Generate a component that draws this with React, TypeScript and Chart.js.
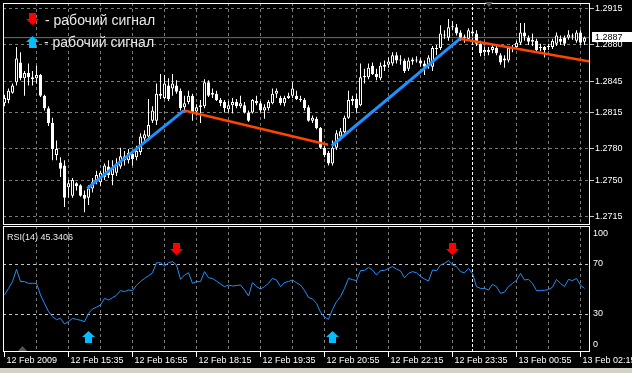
import React, { useEffect, useRef } from 'react';
import { Chart, registerables } from 'chart.js';

Chart.register(...registerables);

// ---- 5-minute candles (bar index 0..145) ----
const OPEN = [
  1.2824, 1.2827, 1.2834, 1.2844, 1.2863, 1.2848, 1.2853, 1.2849, 1.2848, 1.2851,
  1.2831, 1.2819, 1.2805, 1.2774, 1.2767, 1.2764, 1.2743, 1.2735, 1.2747, 1.2745,
  1.2736, 1.2733, 1.2742, 1.2750, 1.2748, 1.2753, 1.2763, 1.2755, 1.2757, 1.2763,
  1.2773, 1.2769, 1.2775, 1.2772, 1.2777, 1.2790, 1.2792, 1.2807, 1.2807, 1.2833,
  1.2829, 1.2841, 1.2838, 1.2841, 1.2836, 1.2820, 1.2825, 1.2831, 1.2816, 1.2820,
  1.2821, 1.2844, 1.2832, 1.2833, 1.2827, 1.2825, 1.2818, 1.2822, 1.2825, 1.2821,
  1.2822, 1.2815, 1.2815, 1.2826, 1.2824, 1.2817, 1.2819, 1.2824, 1.2833, 1.2829,
  1.2824, 1.2829, 1.2831, 1.2831, 1.2828, 1.2827, 1.2820, 1.2807, 1.2809, 1.2800,
  1.2781, 1.2776, 1.2766, 1.2781, 1.2792, 1.2796, 1.2810, 1.2826, 1.2828, 1.2822,
  1.2849, 1.2849, 1.2860, 1.2852, 1.2848, 1.2859, 1.2861, 1.2862, 1.2870, 1.2865,
  1.2865, 1.2857, 1.2864, 1.2866, 1.2865, 1.2862, 1.2860, 1.2859, 1.2876, 1.2877,
  1.2890, 1.2887, 1.2897, 1.2897, 1.2892, 1.2887, 1.2886, 1.2893, 1.2891, 1.2881,
  1.2873, 1.2875, 1.2875, 1.2877, 1.2870, 1.2865, 1.2865, 1.2877, 1.2878, 1.2882,
  1.2892, 1.2887, 1.2883, 1.2884, 1.2877, 1.2878, 1.2878, 1.2878, 1.2881, 1.2886,
  1.2887, 1.2887, 1.2889, 1.2884, 1.2892, 1.2883,
];
const HIGH = [
  1.2832, 1.2838, 1.2843, 1.2878, 1.2873, 1.2855, 1.2862, 1.2855, 1.2860, 1.2852,
  1.2832, 1.2821, 1.2810, 1.2788, 1.2772, 1.2769, 1.2750, 1.2752, 1.2748, 1.2746,
  1.2740, 1.2745, 1.2752, 1.2759, 1.2759, 1.2766, 1.2769, 1.2769, 1.2771, 1.2781,
  1.2778, 1.2780, 1.2778, 1.2783, 1.2795, 1.2798, 1.2828, 1.2821, 1.2843, 1.2852,
  1.2851, 1.2848, 1.2852, 1.2846, 1.2838, 1.2831, 1.2836, 1.2833, 1.2823, 1.2827,
  1.2847, 1.2846, 1.2838, 1.2836, 1.2829, 1.2827, 1.2826, 1.2829, 1.2828, 1.2831,
  1.2825, 1.2817, 1.2828, 1.2831, 1.2826, 1.2823, 1.2827, 1.2838, 1.2838, 1.2831,
  1.2831, 1.2834, 1.2844, 1.2836, 1.2831, 1.2829, 1.2822, 1.2812, 1.2811, 1.2801,
  1.2783, 1.2778, 1.2788, 1.2798, 1.2800, 1.2812, 1.2836, 1.2831, 1.2833, 1.2862,
  1.2857, 1.2862, 1.2863, 1.2857, 1.2863, 1.2865, 1.2868, 1.2873, 1.2873, 1.2870,
  1.2867, 1.2868, 1.2868, 1.2869, 1.2867, 1.2865, 1.2870, 1.2879, 1.2880, 1.2899,
  1.2894, 1.2905, 1.2903, 1.2900, 1.2894, 1.2890, 1.2896, 1.2896, 1.2894, 1.2884,
  1.2878, 1.2878, 1.2880, 1.2879, 1.2872, 1.2870, 1.2878, 1.2880, 1.2884, 1.2901,
  1.2901, 1.2889, 1.2891, 1.2886, 1.2881, 1.2879, 1.2881, 1.2886, 1.2892, 1.2889,
  1.2889, 1.2894, 1.2891, 1.2894, 1.2894, 1.2888,
];
const LOW = [
  1.2821, 1.2824, 1.2833, 1.2841, 1.2846, 1.2831, 1.2841, 1.2841, 1.2843, 1.2830,
  1.2817, 1.2802, 1.2769, 1.2769, 1.2753, 1.2724, 1.2733, 1.2733, 1.2740, 1.2734,
  1.2719, 1.2726, 1.2738, 1.2746, 1.2744, 1.2750, 1.2752, 1.2745, 1.2754, 1.2761,
  1.2764, 1.2766, 1.2764, 1.2769, 1.2774, 1.2786, 1.2788, 1.2805, 1.2803, 1.2828,
  1.2828, 1.2826, 1.2831, 1.2833, 1.2817, 1.2817, 1.2823, 1.2807, 1.2812, 1.2805,
  1.2819, 1.2830, 1.2829, 1.2826, 1.2821, 1.2815, 1.2815, 1.2814, 1.2819, 1.2819,
  1.2814, 1.2806, 1.2814, 1.2822, 1.2815, 1.2809, 1.2817, 1.2823, 1.2829, 1.2822,
  1.2821, 1.2828, 1.2829, 1.2827, 1.2825, 1.2817, 1.2806, 1.2805, 1.2799, 1.2780,
  1.2772, 1.2764, 1.2764, 1.2779, 1.2788, 1.2794, 1.2809, 1.2822, 1.2815, 1.2821,
  1.2843, 1.2847, 1.2851, 1.2846, 1.2846, 1.2855, 1.2858, 1.2860, 1.2862, 1.2861,
  1.2853, 1.2855, 1.2861, 1.2863, 1.2859, 1.2851, 1.2857, 1.2855, 1.2870, 1.2875,
  1.2886, 1.2884, 1.2894, 1.2889, 1.2884, 1.2882, 1.2884, 1.2888, 1.2879, 1.2869,
  1.2869, 1.2870, 1.2872, 1.2870, 1.2861, 1.2858, 1.2863, 1.2873, 1.2876, 1.2880,
  1.2884, 1.2880, 1.2879, 1.2873, 1.2874, 1.2868, 1.2875, 1.2876, 1.2879, 1.2880,
  1.2879, 1.2885, 1.2885, 1.2882, 1.2880, 1.2880,
];
const CLOSE = [
  1.2829, 1.2836, 1.2841, 1.2867, 1.2848, 1.2853, 1.2849, 1.2847, 1.2851, 1.2831,
  1.2819, 1.2805, 1.2780, 1.2780, 1.2761, 1.2733, 1.2747, 1.2750, 1.2744, 1.2735,
  1.2732, 1.2742, 1.2748, 1.2755, 1.2757, 1.2764, 1.2755, 1.2761, 1.2766, 1.2773,
  1.2769, 1.2776, 1.2770, 1.2778, 1.2792, 1.2794, 1.2803, 1.2817, 1.2833, 1.2831,
  1.2843, 1.2828, 1.2843, 1.2835, 1.2819, 1.2824, 1.2831, 1.2815, 1.2820, 1.2822,
  1.2844, 1.2831, 1.2834, 1.2827, 1.2824, 1.2819, 1.2822, 1.2825, 1.2821, 1.2824,
  1.2815, 1.2807, 1.2827, 1.2824, 1.2817, 1.2820, 1.2825, 1.2833, 1.2836, 1.2824,
  1.2829, 1.2831, 1.2838, 1.2828, 1.2827, 1.2819, 1.2807, 1.2810, 1.2800, 1.2781,
  1.2774, 1.2766, 1.2781, 1.2795, 1.2797, 1.2810, 1.2827, 1.2828, 1.2819, 1.2849,
  1.2850, 1.2858, 1.2852, 1.2849, 1.2860, 1.2861, 1.2864, 1.2870, 1.2865, 1.2866,
  1.2855, 1.2865, 1.2866, 1.2865, 1.2862, 1.2859, 1.2868, 1.2877, 1.2877, 1.2891,
  1.2889, 1.2897, 1.2898, 1.2891, 1.2887, 1.2888, 1.2894, 1.2891, 1.2881, 1.2872,
  1.2875, 1.2873, 1.2878, 1.2872, 1.2863, 1.2867, 1.2877, 1.2878, 1.2882, 1.2892,
  1.2888, 1.2883, 1.2885, 1.2875, 1.2878, 1.2875, 1.2879, 1.2884, 1.2889, 1.2883,
  1.2881, 1.2890, 1.2888, 1.2892, 1.2882, 1.2887,
];

// ---- RSI(14) per bar ----
const RSI = [
  45.2, 50.5, 55.9, 65.7, 56, 55.9, 54.5, 54.5, 54.5, 45.2,
  38.5, 32, 28, 25.5, 26.5, 22, 24, 26.5, 25.7, 25,
  23.9, 30.5, 34, 35.5, 37.2, 42.5, 41.2, 43, 45, 48.7,
  47.9, 49.2, 48.7, 53, 56, 58.5, 60.5, 63, 71, 71,
  68.4, 71, 71.9, 69.2, 57.7, 61.2, 63, 54.5, 55.9, 55.9,
  63.9, 59, 58.4, 56.4, 54, 51.9, 53.2, 52.4, 52.8, 53.2,
  49.2, 44.4, 55.1, 51.9, 50, 51.9, 54.5, 58.5, 57.2, 51.9,
  55.1, 56, 57.2, 55, 53.2, 48.9, 43.3, 42, 38.5, 31.5,
  27.5, 25.7, 33.7, 39.9, 43.9, 50.5, 58.5, 57.5, 56.7, 64.7,
  64.9, 67.3, 65.2, 61.2, 64.7, 64.9, 66.5, 67.9, 66, 64.5,
  59, 62.5, 63.9, 63, 60, 58, 56.4, 65.2, 64.7, 69.2,
  70.5, 72.7, 69.2, 67.9, 63.9, 63, 66.5, 62.5, 51.9, 50.5,
  50.5, 49.2, 53.7, 51.9, 46.5, 47.5, 52, 54.5, 57, 62.5,
  57.2, 57.7, 54.5, 48.7, 48.7, 49, 49.5, 51.5, 57.7, 54.5,
  51.9, 57.7, 56.7, 58.5, 53, 50.5,
];

// ---- axes ----
const PRICE_TICKS = [1.2915, 1.288, 1.2845, 1.2815, 1.278, 1.275, 1.2715];
const RSI_TICKS = [100, 70, 30, 0];
const RSI_LEVELS = [70, 30];
const GRID_BARS = [0, 8, 16, 24, 32, 40, 48, 56, 64, 72, 80, 88, 96, 104, 112, 120, 128, 136, 144];
const TIME_LABELS = [
  '12 Feb 2009', '12 Feb 15:35', '12 Feb 16:55', '12 Feb 18:15', '12 Feb 19:35',
  '12 Feb 20:55', '12 Feb 22:15', '12 Feb 23:35', '13 Feb 00:55', '13 Feb 02:15',
];

// ---- objects on the chart ----
const LAST_PRICE = 1.2887;
const RSI_CAPTION = 'RSI(14) 45.3406';
const LEGEND_TEXT = '- рабочий сигнал';
const VLINE_BAR = 117;
const UPTREND_1 = [[20.7, 1.2742], [44.9, 1.2817]];
const UPTREND_2 = [[81.8, 1.2783], [113.9, 1.2886]];
const DOWNTREND_1 = [[44.9, 1.2817], [80.9, 1.2784]];
const DOWNTREND_2 = [[113.9, 1.2886], [146.3, 1.2864]];
const SELL_BARS = [43, 112];
const BUY_BARS = [21, 82];
const SELL_MARK = 82;
const BUY_MARK = 11.6;

// ---- scale extents ----
const X_MIN = -0.375;
const X_MAX = 146.375;
const P_MIN = 1.27068;
const P_MAX = 1.29203;
const R_MIN = -0.4;
const R_MAX = 100.4;

const FONT = "'Liberation Sans', Arial, sans-serif";
const GRID = '#7a7a7a';
const CLEAR = 'rgba(0,0,0,0)';

function makeArrow(color: string, up: boolean): HTMLCanvasElement {
  const c = document.createElement('canvas');
  c.width = 13;
  c.height = 12;
  const g = c.getContext('2d') as CanvasRenderingContext2D;
  g.fillStyle = color;
  g.beginPath();
  if (up) {
    g.moveTo(6.5, 0);
    g.lineTo(13, 6);
    g.lineTo(10, 6);
    g.lineTo(10, 12);
    g.lineTo(3, 12);
    g.lineTo(3, 6);
    g.lineTo(0, 6);
  } else {
    g.moveTo(3, 0);
    g.lineTo(10, 0);
    g.lineTo(10, 6);
    g.lineTo(13, 6);
    g.lineTo(6.5, 12);
    g.lineTo(0, 6);
    g.lineTo(3, 6);
  }
  g.closePath();
  g.fill();
  return c;
}

const toPts = (seg: number[][]) => seg.map((p) => ({ x: p[0], y: p[1] }));

export default function App() {
  const mainRef = useRef<HTMLCanvasElement>(null);
  const rsiRef = useRef<HTMLCanvasElement>(null);

  useEffect(() => {
    const downImg = makeArrow('#ff0000', false);
    const upImg = makeArrow('#00bfff', true);

    const framePlugin = {
      id: 'frame',
      afterDraw(chart: any) {
        const { ctx, chartArea: a } = chart;
        ctx.save();
        ctx.strokeStyle = '#ffffff';
        ctx.lineWidth = 1;
        ctx.strokeRect(a.left + 0.5, a.top + 0.5, a.right - a.left - 1, a.bottom - a.top - 1);
        ctx.restore();
      },
    };

    const mainOverlay = {
      id: 'mainOverlay',
      afterDraw(chart: any) {
        const { ctx, chartArea: a } = chart;
        ctx.save();
        // legend of the signal arrows
        ctx.drawImage(downImg, 26, 13);
        ctx.drawImage(upImg, 26, 36);
        ctx.font = '14px ' + FONT;
        ctx.fillStyle = '#e8e8e8';
        ctx.textBaseline = 'alphabetic';
        ctx.textAlign = 'left';
        ctx.fillText(LEGEND_TEXT, 45, 25);
        ctx.fillText(LEGEND_TEXT, 44, 47);
        // current price tag
        const py = chart.scales.y.getPixelForValue(LAST_PRICE);
        const top = Math.round(py - 5.5);
        ctx.fillStyle = '#ffffff';
        ctx.fillRect(a.right + 2, top, 40, 10);
        ctx.fillStyle = '#000000';
        ctx.font = '9px ' + FONT;
        ctx.textBaseline = 'middle';
        ctx.fillText(LAST_PRICE.toFixed(4), a.right + 5, top + 5.5);
        // chart shift marker
        ctx.fillStyle = '#555555';
        ctx.beginPath();
        ctx.moveTo(485, 2);
        ctx.lineTo(493, 2);
        ctx.lineTo(489, 7);
        ctx.closePath();
        ctx.fill();
        ctx.restore();
      },
    };

    const rsiOverlay = {
      id: 'rsiOverlay',
      afterDraw(chart: any) {
        const { ctx, chartArea: a } = chart;
        ctx.save();
        ctx.font = '9px ' + FONT;
        ctx.fillStyle = '#ececec';
        ctx.textBaseline = 'alphabetic';
        ctx.textAlign = 'left';
        ctx.fillText(RSI_CAPTION, a.left + 4, a.top + 13.5);
        ctx.fillStyle = '#555555';
        ctx.beginPath();
        ctx.moveTo(18, a.bottom - 1);
        ctx.lineTo(27, a.bottom - 1);
        ctx.lineTo(22.5, a.bottom - 6);
        ctx.closePath();
        ctx.fill();
        ctx.restore();
      },
    };

    const trend = (seg: number[][], color: string, width: number) => ({
      type: 'line' as const,
      data: toPts(seg),
      borderColor: color,
      borderWidth: width,
      pointRadius: 0,
      order: 0,
    });

    const main = new Chart(mainRef.current as HTMLCanvasElement, {
      type: 'bar',
      data: {
        datasets: [
          trend(UPTREND_1, '#1e90ff', 3),
          trend(UPTREND_2, '#1e90ff', 3),
          trend(DOWNTREND_1, '#ff4500', 2.5),
          trend(DOWNTREND_2, '#ff4500', 2.5),
          {
            type: 'bar',
            data: OPEN.map((o, i) => ({ x: i, y: [o, CLOSE[i]] })),
            backgroundColor: OPEN.map((o, i) => (CLOSE[i] >= o ? '#000000' : '#ffffff')),
            borderColor: '#ffffff',
            borderWidth: 1,
            borderSkipped: false,
            barThickness: 3,
            grouped: false,
            inflateAmount: 0,
            order: 1,
          },
          {
            type: 'bar',
            data: LOW.map((l, i) => ({ x: i, y: [l, HIGH[i]] })),
            backgroundColor: '#ffffff',
            borderWidth: 0,
            barThickness: 1,
            grouped: false,
            inflateAmount: 0,
            order: 2,
          },
          {
            type: 'line',
            data: [{ x: X_MIN, y: LAST_PRICE }, { x: X_MAX, y: LAST_PRICE }],
            borderColor: '#707070',
            borderWidth: 1,
            pointRadius: 0,
            order: 3,
          },
          {
            type: 'line',
            data: [{ x: VLINE_BAR, y: P_MIN }, { x: VLINE_BAR, y: P_MAX }],
            borderColor: '#ffffff',
            borderWidth: 1,
            borderDash: [3, 2],
            pointRadius: 0,
            order: 4,
          },
        ] as any,
      },
      options: {
        animation: false,
        responsive: false,
        devicePixelRatio: 1,
        events: [],
        layout: { padding: { left: 3, top: 3, right: 0, bottom: 0 }, autoPadding: false },
        plugins: { legend: { display: false }, tooltip: { enabled: false } },
        scales: {
          x: {
            type: 'linear',
            min: X_MIN,
            max: X_MAX,
            offset: false,
            bounds: 'data',
            afterBuildTicks: (s: any) => { s.ticks = GRID_BARS.map((v) => ({ value: v })); },
            afterFit: (s: any) => { s.height = 0; s.paddingLeft = 0; s.paddingRight = 0; s.paddingTop = 0; s.paddingBottom = 0; },
            ticks: { display: false, autoSkip: false },
            grid: { color: (c: any) => (c.index === 0 ? CLEAR : GRID), drawTicks: false, offset: false },
            border: { display: false, dash: [3, 3] },
          },
          y: {
            type: 'linear',
            position: 'right',
            min: P_MIN,
            max: P_MAX,
            bounds: 'data',
            beginAtZero: false,
            afterBuildTicks: (s: any) => { s.ticks = PRICE_TICKS.map((v) => ({ value: v })); },
            afterFit: (s: any) => { s.width = 42; s.paddingTop = 0; s.paddingBottom = 0; s.paddingLeft = 0; s.paddingRight = 0; },
            ticks: {
              color: '#ffffff',
              font: { family: FONT, size: 9 },
              padding: 1,
              autoSkip: false,
              callback: (v: any) => Number(v).toFixed(4),
            },
            grid: { color: GRID, tickColor: '#c8c8c8', tickLength: 4, drawTicks: true },
            border: { display: false, dash: [3, 3] },
          },
        },
      } as any,
      plugins: [framePlugin, mainOverlay],
    });

    const rsi = new Chart(rsiRef.current as HTMLCanvasElement, {
      type: 'line',
      data: {
        datasets: [
          {
            data: SELL_BARS.map((b) => ({ x: b, y: SELL_MARK })),
            showLine: false,
            pointStyle: downImg,
            pointRadius: 6,
            order: 0,
          },
          {
            data: BUY_BARS.map((b) => ({ x: b, y: BUY_MARK })),
            showLine: false,
            pointStyle: upImg,
            pointRadius: 6,
            order: 0,
          },
          {
            data: RSI.map((v, i) => ({ x: i, y: v })),
            borderColor: '#1e90ff',
            borderWidth: 1,
            pointRadius: 0,
            tension: 0,
            order: 1,
          },
          {
            data: [{ x: VLINE_BAR, y: R_MIN }, { x: VLINE_BAR, y: R_MAX }],
            borderColor: '#ffffff',
            borderWidth: 1,
            borderDash: [3, 2],
            pointRadius: 0,
            order: 2,
          },
        ] as any,
      },
      options: {
        animation: false,
        responsive: false,
        devicePixelRatio: 1,
        events: [],
        layout: { padding: { left: 3, top: 1, right: 0, bottom: 0 }, autoPadding: false },
        plugins: { legend: { display: false }, tooltip: { enabled: false } },
        scales: {
          x: {
            type: 'linear',
            min: X_MIN,
            max: X_MAX,
            offset: false,
            bounds: 'data',
            afterBuildTicks: (s: any) => { s.ticks = GRID_BARS.map((v) => ({ value: v })); },
            afterFit: (s: any) => { s.height = 16; s.paddingLeft = 0; s.paddingRight = 0; s.paddingTop = 0; s.paddingBottom = 0; },
            ticks: {
              color: '#ffffff',
              font: { family: FONT, size: 9 },
              align: 'start',
              maxRotation: 0,
              minRotation: 0,
              autoSkip: false,
              padding: -2,
              labelOffset: 2,
              callback: (_v: any, idx: number) => (idx % 2 === 0 ? TIME_LABELS[idx / 2] : ''),
            },
            grid: {
              color: (c: any) => (c.index === 0 ? CLEAR : GRID),
              tickColor: (c: any) => (c.index % 2 === 0 ? '#ffffff' : CLEAR),
              tickLength: 5,
              offset: false,
            },
            border: { display: false, dash: [3, 3] },
          },
          y: {
            type: 'linear',
            position: 'right',
            min: R_MIN,
            max: R_MAX,
            bounds: 'data',
            afterBuildTicks: (s: any) => { s.ticks = RSI_TICKS.map((v) => ({ value: v })); },
            afterFit: (s: any) => { s.width = 42; s.paddingTop = 0; s.paddingBottom = 0; s.paddingLeft = 0; s.paddingRight = 0; },
            ticks: {
              color: '#ffffff',
              font: { family: FONT, size: 9, lineHeight: 1.6 },
              padding: 0,
              autoSkip: false,
              callback: (v: any) => (v === 100 ? ['', '100'] : v === 0 ? ['0', ''] : String(v)),
            },
            grid: {
              color: (c: any) => (c.tick && RSI_LEVELS.includes(c.tick.value) ? '#c4c4c4' : CLEAR),
              tickColor: CLEAR,
              tickLength: 3,
            },
            border: { display: false, dash: [3, 3] },
          },
        },
      } as any,
      plugins: [framePlugin, rsiOverlay],
    });

    return () => {
      main.destroy();
      rsi.destroy();
    };
  }, []);

  return (
    <div style={{ position: 'fixed', left: 0, top: 0, width: 632, height: 373, background: '#000', overflow: 'hidden' }}>
      <canvas ref={mainRef} width={632} height={225} style={{ position: 'absolute', left: 0, top: 0, width: 632, height: 225 }} />
      <canvas ref={rsiRef} width={632} height={143} style={{ position: 'absolute', left: 0, top: 225, width: 632, height: 143 }} />
      <div style={{ position: 'absolute', left: 0, top: 368, width: 632, height: 5, background: '#d4d0c8' }} />
    </div>
  );
}
